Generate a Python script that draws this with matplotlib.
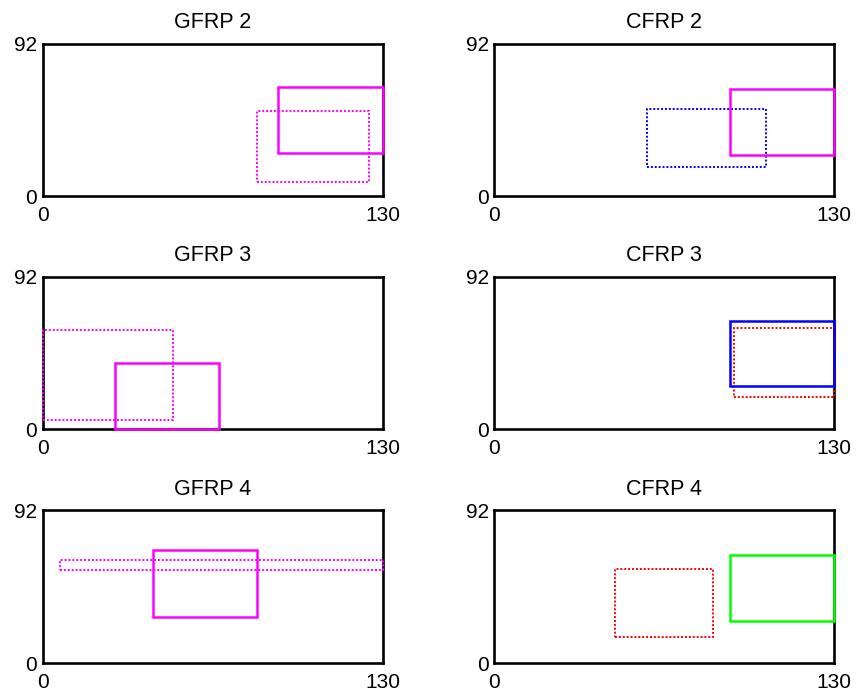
import matplotlib
matplotlib.use("Agg")
import matplotlib.pyplot as plt
from matplotlib.patches import Rectangle

plt.rcParams['font.family'] = ['Liberation Sans', 'DejaVu Sans']

titles = ['GFRP 2', 'CFRP 2', 'GFRP 3', 'CFRP 3', 'GFRP 4', 'CFRP 4']
x_max = 130
y_max = 92

# solid rectangles: x0, x1, y0, y1
solid_x0 = [90, 90, 27.5, 90, 42, 90]
solid_x1 = [130, 130, 67.5, 130, 82, 130]
solid_y0 = [26, 25, 0, 26, 28, 25.5]
solid_y1 = [66, 65, 40, 65.5, 68, 65]
solid_colors = ['#ff00ff', '#ff00ff', '#ff00ff', '#0000ff', '#ff00ff', '#00ff00']

# dotted rectangles: x0, x1, y0, y1
dot_x0 = [82, 58.5, 0, 91.5, 6.5, 46.3]
dot_x1 = [125, 104, 50, 130, 130, 83.5]
dot_y0 = [9, 17.5, 5.5, 19.5, 56, 16]
dot_y1 = [51.5, 52.5, 60, 61, 62, 57]
dot_colors = ['#ff00ff', '#0000ff', '#ff00ff', '#ff0000', '#ff00ff', '#ff0000']

fig = plt.figure(figsize=(8.56, 6.93), dpi=100)
lefts = [0.0499, 0.5775]
bottoms = [0.7165, 0.3805, 0.0429]
w, h = 0.397, 0.2205

for i, title in enumerate(titles):
    r, c = divmod(i, 2)
    ax = fig.add_axes([lefts[c], bottoms[r], w, h])
    ax.set_xlim(0, x_max)
    ax.set_ylim(0, y_max)
    ax.set_xticks([0, x_max])
    ax.set_yticks([0, y_max])
    ax.tick_params(length=0, labelsize=15)
    ax.tick_params(axis='x', pad=7)
    ax.tick_params(axis='y', pad=4)
    for s in ax.spines.values():
        s.set_linewidth(1.9)
        s.set_color('black')
    ax.set_title(title, fontsize=15.5, pad=11)
    ax.add_patch(Rectangle((dot_x0[i], dot_y0[i]), dot_x1[i] - dot_x0[i], dot_y1[i] - dot_y0[i],
                           fill=False, edgecolor=dot_colors[i], lw=1.4, ls=(0, (1, 1)),
                           zorder=3, clip_on=False))
    ax.add_patch(Rectangle((solid_x0[i], solid_y0[i]), solid_x1[i] - solid_x0[i], solid_y1[i] - solid_y0[i],
                           fill=False, edgecolor=solid_colors[i], lw=1.8, ls='-',
                           zorder=4, clip_on=False))

fig.savefig('out.png', dpi=100)
